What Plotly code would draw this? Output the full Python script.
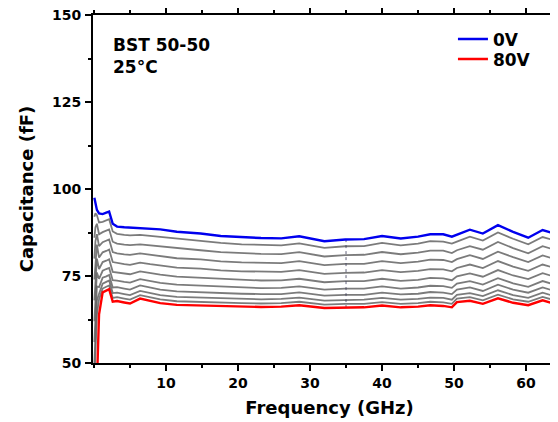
import plotly.graph_objects as go

freq_ghz = [0.05, 0.2, 0.4, 0.7, 1.2, 1.7, 2.1, 2.6, 3.2, 4.2, 5.0, 6.4, 7.8, 9.2, 11.5, 14.8, 17.6, 20.5, 23.2, 26.0,
            28.5, 32.0, 34.9, 37.5, 40.0, 42.6, 45.0, 46.7, 48.5, 49.7, 50.4, 52.2, 54.0, 56.1, 58.2, 60.3, 62.3, 64.3, 66.0]

cap_0v = [97.5, 95.5, 94.0, 93.0, 92.8, 93.2, 93.5, 90.0, 89.2, 89.0, 88.9, 88.8, 88.6, 88.4, 87.7, 87.2, 86.5, 86.1, 85.9, 85.8,
          86.4, 85.0, 85.5, 85.6, 86.5, 85.8, 86.3, 87.0, 87.0, 86.3, 86.8, 88.3, 87.2, 89.6, 87.7, 86.0, 88.2, 87.0, 87.5]

cap_80v = [40.0, 40.0, 44.0, 64.0, 70.3, 70.8, 71.2, 67.6, 67.8, 67.4, 67.1, 68.5, 67.8, 67.2, 66.7, 66.5, 66.3, 66.2, 66.1, 66.2,
           66.6, 65.8, 66.0, 66.0, 66.5, 66.0, 66.2, 66.6, 66.4, 66.0, 67.5, 67.9, 67.0, 68.6, 67.3, 66.6, 68.0, 66.8, 67.2]

cap_g1 = [92, 93, 92.5, 90.4, 90.55, 91.0, 91.3, 87.8, 87.1, 86.8, 86.7, 86.8, 86.5, 86.3, 85.6, 85.1, 84.5, 84.1, 83.9, 83.8,
          84.4, 83.1, 83.55, 83.6, 84.5, 83.8, 84.3, 85.0, 84.9, 84.3, 84.9, 86.3, 85.2, 87.5, 85.7, 84.1, 86.2, 85.0, 85.5]
cap_g2 = [86, 89, 90, 87.0, 87.6, 88.05, 88.4, 84.85, 84.3, 84.0, 83.9, 84.1, 83.8, 83.5, 82.9, 82.4, 81.85, 81.5, 81.35, 81.3,
          81.85, 80.6, 81.0, 81.1, 81.9, 81.25, 81.7, 82.3, 82.3, 81.6, 82.4, 83.6, 82.55, 84.8, 83.0, 81.5, 83.55, 82.35, 82.8]
cap_g3 = [80, 85, 87, 83.6, 84.7, 85.1, 85.5, 81.9, 81.5, 81.2, 81.05, 81.5, 81.1, 80.8, 80.1, 79.75, 79.2, 78.9, 78.8, 78.7,
          79.3, 78.1, 78.5, 78.5, 79.3, 78.7, 79.1, 79.7, 79.6, 79.0, 79.85, 81.0, 79.9, 82.0, 80.4, 79.0, 80.9, 79.7, 80.2]
cap_g4 = [74, 80, 84, 80.3, 81.8, 82.2, 82.6, 79.0, 78.7, 78.4, 78.2, 78.85, 78.4, 78.0, 77.4, 77.1, 76.6, 76.35, 76.2, 76.2,
          76.7, 75.6, 75.9, 76.0, 76.7, 76.1, 76.45, 77.0, 76.9, 76.35, 77.3, 78.3, 77.3, 79.3, 77.7, 76.5, 78.3, 77.1, 77.55]
cap_g5 = [68, 75, 80, 77.0, 79.0, 79.4, 79.8, 76.2, 76.0, 75.7, 75.5, 76.3, 75.8, 75.4, 74.8, 74.5, 74.1, 73.9, 73.7, 73.75,
          74.2, 73.2, 73.5, 73.55, 74.2, 73.6, 73.9, 74.45, 74.3, 73.8, 74.9, 75.75, 74.8, 76.7, 75.15, 74.1, 75.8, 74.6, 75.0]
cap_g6 = [62, 70, 76, 74.2, 76.5, 77.0, 77.3, 73.8, 73.7, 73.3, 73.1, 74.1, 73.5, 73.0, 72.5, 72.2, 71.85, 71.7, 71.5, 71.6,
          72.0, 71.1, 71.4, 71.4, 72.0, 71.4, 71.7, 72.2, 72.1, 71.6, 72.8, 73.5, 72.55, 74.4, 72.9, 71.9, 73.55, 72.35, 72.8]
cap_g7 = [56, 64, 72, 71.8, 74.5, 74.9, 75.3, 71.7, 71.8, 71.4, 71.1, 72.3, 71.65, 71.1, 70.6, 70.3, 70.0, 69.9, 69.8, 69.8,
          70.3, 69.35, 69.6, 69.6, 70.2, 69.7, 69.9, 70.4, 70.2, 69.8, 71.1, 71.7, 70.7, 72.5, 71.1, 70.2, 71.7, 70.5, 71.0]
cap_g8 = [50, 58, 68, 69.9, 72.8, 73.3, 73.7, 70.1, 70.2, 69.8, 69.5, 70.7, 70.1, 69.5, 69.0, 68.8, 68.5, 68.4, 68.3, 68.4,
          68.8, 67.9, 68.1, 68.2, 68.7, 68.2, 68.4, 68.8, 68.7, 68.2, 69.6, 70.1, 69.2, 70.9, 69.5, 68.7, 70.2, 69.0, 69.4]
cap_g9 = [45, 53, 64, 68.3, 71.4, 71.9, 72.3, 68.7, 68.9, 68.5, 68.2, 69.5, 68.8, 68.3, 67.75, 67.5, 67.3, 67.2, 67.1, 67.2,
          67.6, 66.8, 67.0, 67.0, 67.5, 67.0, 67.2, 67.6, 67.4, 67.0, 68.5, 68.9, 68.0, 69.65, 68.3, 67.6, 69.0, 67.8, 68.2]

grey_series = [cap_g1, cap_g2, cap_g3, cap_g4, cap_g5, cap_g6, cap_g7, cap_g8, cap_g9]

# band-switch artifact visible as a thin vertical line near 35 GHz
artifact_freq = [35.0, 35.0]
artifact_cap = [85.6, 65.9]

x_ticks = [10, 20, 30, 40, 50, 60]
y_ticks = [50, 75, 100, 125, 150]

FONT = "DejaVu Sans"

fig = go.Figure()
for g in grey_series:
    fig.add_trace(go.Scatter(x=freq_ghz, y=g, mode="lines", showlegend=False,
                             line=dict(color="rgba(100,100,100,0.85)", width=1.8), hoverinfo="skip"))
fig.add_trace(go.Scatter(x=artifact_freq, y=artifact_cap, mode="lines", showlegend=False,
                         line=dict(color="rgba(60,60,90,0.8)", width=1, dash="dot"), hoverinfo="skip"))
fig.add_trace(go.Scatter(x=freq_ghz, y=cap_80v, mode="lines", name="80V", legend="legend2",
                         line=dict(color="#ff0000", width=2.4)))
fig.add_trace(go.Scatter(x=freq_ghz, y=cap_0v, mode="lines", name="0V", legend="legend",
                         line=dict(color="#0000ee", width=2.4)))

axis_common = dict(showline=True, linecolor="black", linewidth=2, mirror="ticks", ticks="outside",
                   ticklen=6, tickwidth=1.5, tickcolor="black", showgrid=False, zeroline=False,
                   ticklabeloverflow="allow", automargin=False,
                   tickfont=dict(family=FONT, size=14, color="black", weight="bold"))

legend_font = dict(family=FONT, size=17, color="black", weight="bold")

fig.update_layout(
    width=558, height=422,
    margin=dict(l=85, r=0, t=7, b=67, autoexpand=False),
    paper_bgcolor="white", plot_bgcolor="white",
    xaxis=dict(range=[-0.14, 65.55], tickvals=x_ticks, ticklabelstandoff=0,
               minor=dict(dtick=5, tick0=0, ticks="outside", ticklen=3, tickwidth=1.5, tickcolor="black"),
               title=dict(text="Frequency (GHz)", font=dict(family=FONT, size=18, color="black", weight="bold"),
                          standoff=12),
               **axis_common),
    yaxis=dict(range=[50, 150], tickvals=y_ticks, ticklabelstandoff=1,
               minor=dict(dtick=12.5, tick0=50, ticks="outside", ticklen=3, tickwidth=1.5, tickcolor="black"),
               title=dict(text="Capacitance (fF)", font=dict(family=FONT, size=18, color="black", weight="bold"),
                          standoff=14),
               **axis_common),
    legend=dict(x=0.761, y=0.9816, xanchor="left", yanchor="top", bgcolor="rgba(0,0,0,0)", font=legend_font),
    legend2=dict(x=0.761, y=0.9816 - 20 / 347.5, xanchor="left", yanchor="top", bgcolor="rgba(0,0,0,0)",
                 font=legend_font),
    annotations=[dict(text="BST 50-50<br>25°C", xref="paper", yref="paper", x=0.038, y=0.948,
                      xanchor="left", yanchor="top", showarrow=False, align="left",
                      font=dict(family=FONT, size=17, color="black", weight="bold"))],
)

fig.write_html("out.html")
